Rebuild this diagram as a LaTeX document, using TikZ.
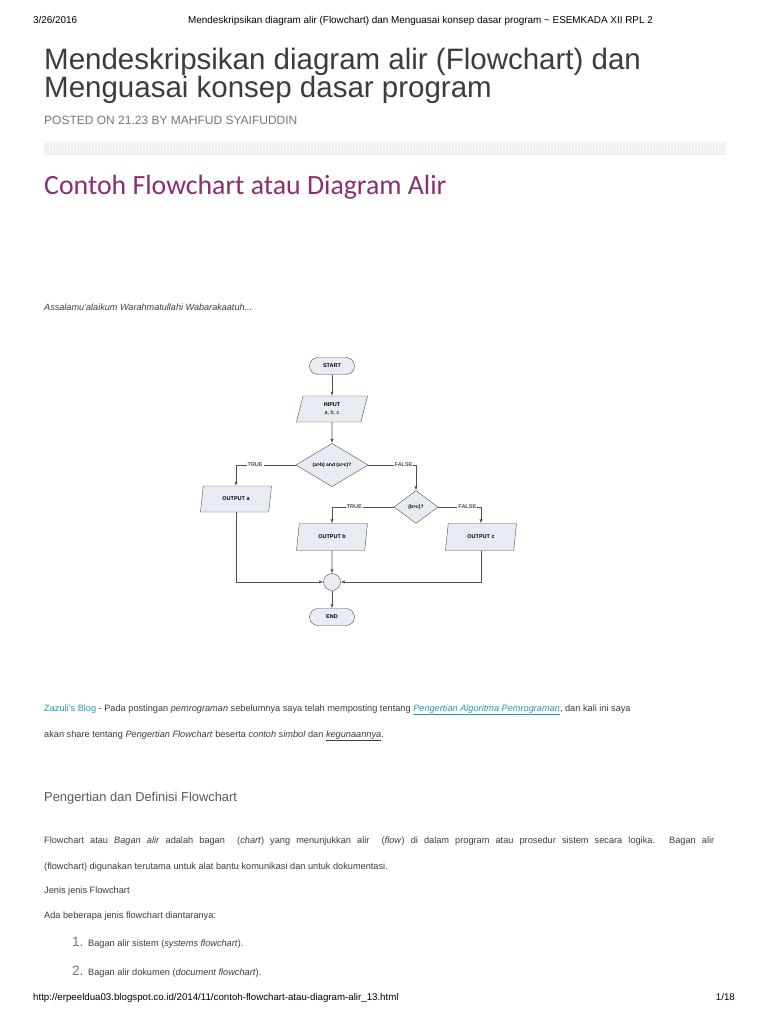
\documentclass[tikz,border=0pt]{standalone}
\usepackage{fontspec}
\setmainfont{Liberation Sans}
\newfontfamily\headfont{Carlito}
\usetikzlibrary{arrows.meta, shapes.geometric, patterns}

\definecolor{inkgray}{HTML}{3C3C3C}
\definecolor{softgray}{HTML}{777777}
\definecolor{linegray}{HTML}{505050}
\definecolor{boxfill}{HTML}{E8ECF2}
\definecolor{plum}{HTML}{8C2C72}
\definecolor{linkteal}{HTML}{2596B0}

\begin{document}
\begin{tikzpicture}[
    x=1pt, y=-1pt,
    txt/.style={anchor=base west, inner sep=0pt, text=inkgray},
    body/.style={txt, font=\fontsize{9.2}{11}\selectfont},
    term/.style={draw=linegray, fill=boxfill, rounded corners=8.5pt,
      minimum width=45pt, minimum height=17pt, inner sep=0pt,
      font=\fontsize{5.5}{6}\selectfont\bfseries},
    io/.style={trapezium, trapezium left angle=65, trapezium right angle=115,
      trapezium stretches body, draw=linegray, fill=boxfill,
      minimum width=71pt, minimum height=26pt, inner sep=1pt, align=center,
      font=\fontsize{5.5}{6.5}\selectfont\bfseries},
    decision/.style={diamond, draw=linegray, fill=boxfill, inner sep=0pt,
      font=\fontsize{5}{6}\selectfont\bfseries},
    merge/.style={circle, draw=linegray, fill=boxfill, minimum size=17pt, inner sep=0pt},
    flow/.style={-{Latex[length=4pt, width=3.2pt]}, draw=linegray, semithick},
    branch/.style={fill=white, inner sep=1pt, text=linegray,
      font=\fontsize{5.5}{6}\selectfont\bfseries},
  ]

  \fill[white] (0,0) rectangle (768,1024);
  \useasboundingbox (0,0) rectangle (768,1024);

  % ---- page header ----
  \node[txt, font=\fontsize{9.9}{12}\selectfont, text=black] (date) at (33,24) {3/26/2016};
  \node[txt, font=\fontsize{9.9}{12}\selectfont, text=black] (pagetitle) at (188,24)
    {Mendeskripsikan diagram alir (Flowchart) dan Menguasai konsep dasar program \textasciitilde{} ESEMKADA XII RPL 2};

  % ---- post title ----
  \node[txt, font=\fontsize{29.5}{32}\selectfont] (title1) at (44,70)
    {Mendeskripsikan diagram alir (Flowchart) dan};
  \node[txt, font=\fontsize{29.5}{32}\selectfont] (title2) at (44,98)
    {Menguasai konsep dasar program};
  \node[txt, font=\fontsize{12}{14}\selectfont, text=softgray] (posted) at (44,125)
    {POSTED ON 21.23 BY MAHFUD SYAIFUDDIN};
  \fill[pattern=crosshatch, pattern color=gray!18] (44,143) rectangle (726,155);

  % ---- section heading ----
  \node[txt, font=\headfont\fontsize{27.8}{30}\selectfont, text=plum] (heading) at (44,195)
    {Contoh Flowchart atau Diagram Alir};
  \node[txt, font=\fontsize{9.1}{11}\selectfont\itshape] (salam) at (44,310)
    {Assalamu'alaikum Warahmatullahi Wabarakaatuh...};

  % ---- flowchart ----
  \node[term] (start) at (332,366) {START};
  \node[io] (input) at (332,409) {INPUT\\[1pt]\mdseries a, b, c};
  \node[decision, minimum width=72pt, minimum height=42pt] (test1) at (332,465) {(a>b) and (a>c)?};
  \node[io] (outa) at (236,499) {OUTPUT a};
  \node[decision, minimum width=44pt, minimum height=33pt] (test2) at (416,507) {(b>c)?};
  \node[io, minimum height=27pt] (outb) at (332,537) {OUTPUT b};
  \node[io, minimum height=27pt] (outc) at (481,537) {OUTPUT c};
  \node[merge] (join) at (332,582) {};
  \node[term] (stop) at (332,617) {END};

  \draw[flow] (start) -- (input);
  \draw[flow] (input) -- (test1);
  \draw[flow] (test1.west) -| node[branch, pos=0.34]{TRUE} (outa.north);
  \draw[flow] (test1.east) -| node[branch, pos=0.37]{FALSE} (test2.north);
  \draw[flow] (test2.west) -| node[branch, pos=0.32]{TRUE} (outb.north);
  \draw[flow] (test2.east) -| node[branch, pos=0.34]{FALSE} (outc.north);
  \draw[flow] (outa.south) |- (join.west);
  \draw[flow] (outb.south) -- (join.north);
  \draw[flow] (outc.south) |- (join.east);
  \draw[flow] (join) -- (stop);

  % ---- article text ----
  \node[body] (intro1) at (44,711)
    {\textcolor{linkteal}{Zazuli's Blog} - Pada postingan \textit{pemrograman} sebelumnya saya telah memposting tentang
     \textcolor{linkteal}{\underline{\textit{Pengertian Algoritma Pemrograman}}}, dan kali ini saya};
  \node[body] (intro2) at (44,737)
    {akan share tentang \textit{Pengertian Flowchart} beserta \textit{contoh simbol} dan \underline{\textit{kegunaannya}}.};
  \node[txt, font=\fontsize{12.9}{15}\selectfont, text=inkgray!85] (subhead) at (44,801)
    {Pengertian dan Definisi Flowchart};
  \node[body] (def1) at (44,843)
    {\makebox[670pt][s]{Flowchart atau \textit{Bagan alir} adalah bagan \ (\textit{chart}) yang menunjukkan alir \ (\textit{flow}) di dalam program atau prosedur sistem secara logika. Bagan alir}};
  \node[body] (def2) at (44,869)
    {(flowchart) digunakan terutama untuk alat bantu komunikasi dan untuk dokumentasi.};
  \node[body] (jenis) at (44,893) {Jenis jenis Flowchart};
  \node[body] (ada) at (44,918) {Ada beberapa jenis flowchart diantaranya:};
  \node[txt, font=\fontsize{13.5}{15}\selectfont, text=softgray] (num1) at (72,946) {1.};
  \node[body] (item1) at (88,946) {Bagan alir sistem (\textit{systems flowchart}).};
  \node[txt, font=\fontsize{13.5}{15}\selectfont, text=softgray] (num2) at (72,975) {2.};
  \node[body] (item2) at (88,975) {Bagan alir dokumen (\textit{document flowchart}).};

  % ---- page footer ----
  \node[txt, font=\fontsize{9.7}{11}\selectfont, text=black] (url) at (33,1000)
    {http://erpeeldua03.blogspot.co.id/2014/11/contoh-flowchart-atau-diagram-alir\_13.html};
  \node[txt, anchor=base east, font=\fontsize{9.7}{11}\selectfont, text=black] (pageno) at (735,1000) {1/18};

\end{tikzpicture}
\end{document}
